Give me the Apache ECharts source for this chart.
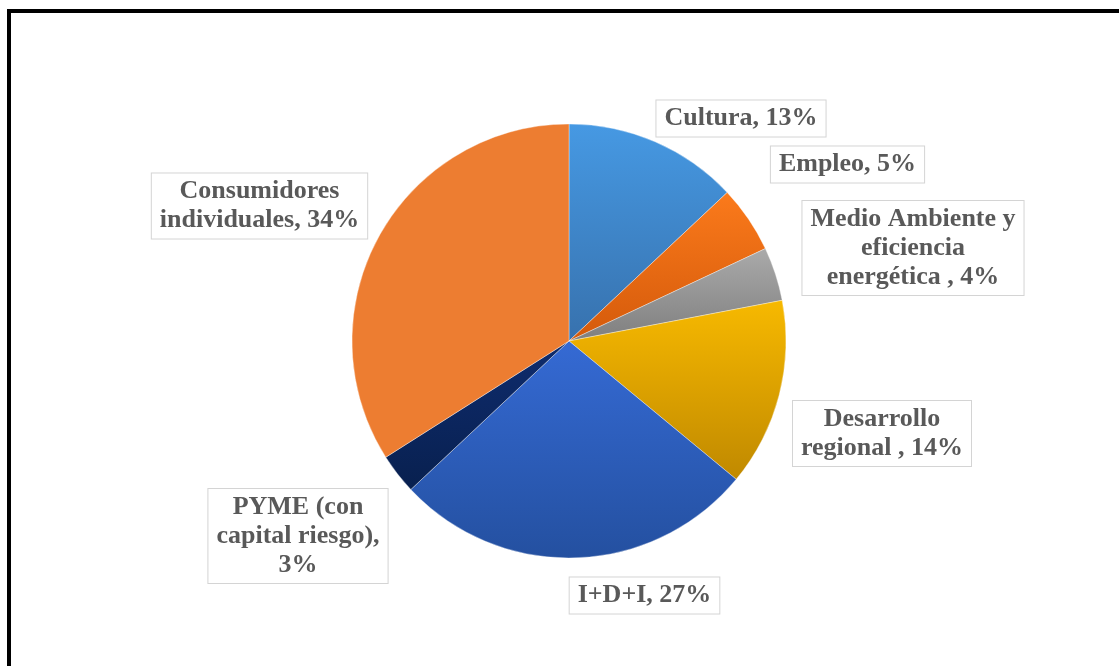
<!DOCTYPE html>
<html>
<head>
<meta charset="utf-8">
<script src="https://cdn.jsdelivr.net/npm/echarts@6/dist/echarts.min.js"></script>
<style>
  html, body { margin: 0; padding: 0; background: #fff; overflow: hidden; }
  #chart { position: absolute; left: 0; top: 0; width: 1119px; height: 666px; }
  #frame { position: absolute; left: 7px; top: 9px; width: 1300px; height: 800px;
           border-left: 4px solid #000; border-top: 4px solid #000; pointer-events: none; }
</style>
</head>
<body>
<div id="chart"></div>
<div id="frame"></div>
<script>
// Data
const categories = [
  "Cultura",
  "Empleo",
  "Medio Ambiente y\neficiencia\nenergética ",
  "Desarrollo\nregional ",
  "I+D+I",
  "PYME (con\ncapital riesgo),\n",
  "Consumidores\nindividuales"
];
const values = [13, 5, 4, 14, 27, 3, 34];

// Styling (not data)
const gradients = [
  ["#4699e3", "#3771ad"],
  ["#fb7a1b", "#d45a0b"],
  ["#aaaaaa", "#7f7f7f"],
  ["#f7b900", "#c08900"],
  ["#356ad4", "#2450a0"],
  ["#0f2c6e", "#08204f"],
  ["#ed7d31", "#ed7d31"]
];
const labelCenters = [
  [741, 118.5], [847.5, 164.5], [913, 248], [882, 433.5],
  [644.5, 595.5], [298, 536], [259.5, 206]
];

const chart = echarts.init(document.getElementById('chart'), null, { renderer: 'canvas' });

const data = categories.map((name, i) => ({
  name: name,
  value: values[i],
  itemStyle: {
    color: new echarts.graphic.LinearGradient(0, 0, 0, 1, [
      { offset: 0, color: gradients[i][0] },
      { offset: 1, color: gradients[i][1] }
    ])
  }
}));

chart.setOption({
  animation: false,
  series: [{
    type: 'pie',
    center: [569, 341],
    radius: 217,
    startAngle: 90,
    clockwise: true,
    data: data,
    itemStyle: { borderColor: 'rgba(255,255,255,0.6)', borderWidth: 0.6 },
    labelLine: { show: false },
    label: {
      show: true,
      position: 'outside',
      formatter: function (p) {
        const n = p.name;
        const sep = n.endsWith('\n') ? '' : ', ';
        return n + sep + p.value + '%';
      },
      fontFamily: '"Liberation Serif", "Times New Roman", serif',
      fontWeight: 'bold',
      fontSize: 26,
      lineHeight: 29,
      color: '#595959',
      align: 'center',
      backgroundColor: '#fff',
      borderColor: '#d4d4d4',
      borderWidth: 1,
      padding: [4, 8, 3, 8]
    },
    labelLayout: function (params) {
      const c = labelCenters[params.dataIndex];
      return { x: c[0], y: c[1], align: 'center', verticalAlign: 'middle', hideOverlap: false, moveOverlap: null };
    }
  }]
});
</script>
</body>
</html>
